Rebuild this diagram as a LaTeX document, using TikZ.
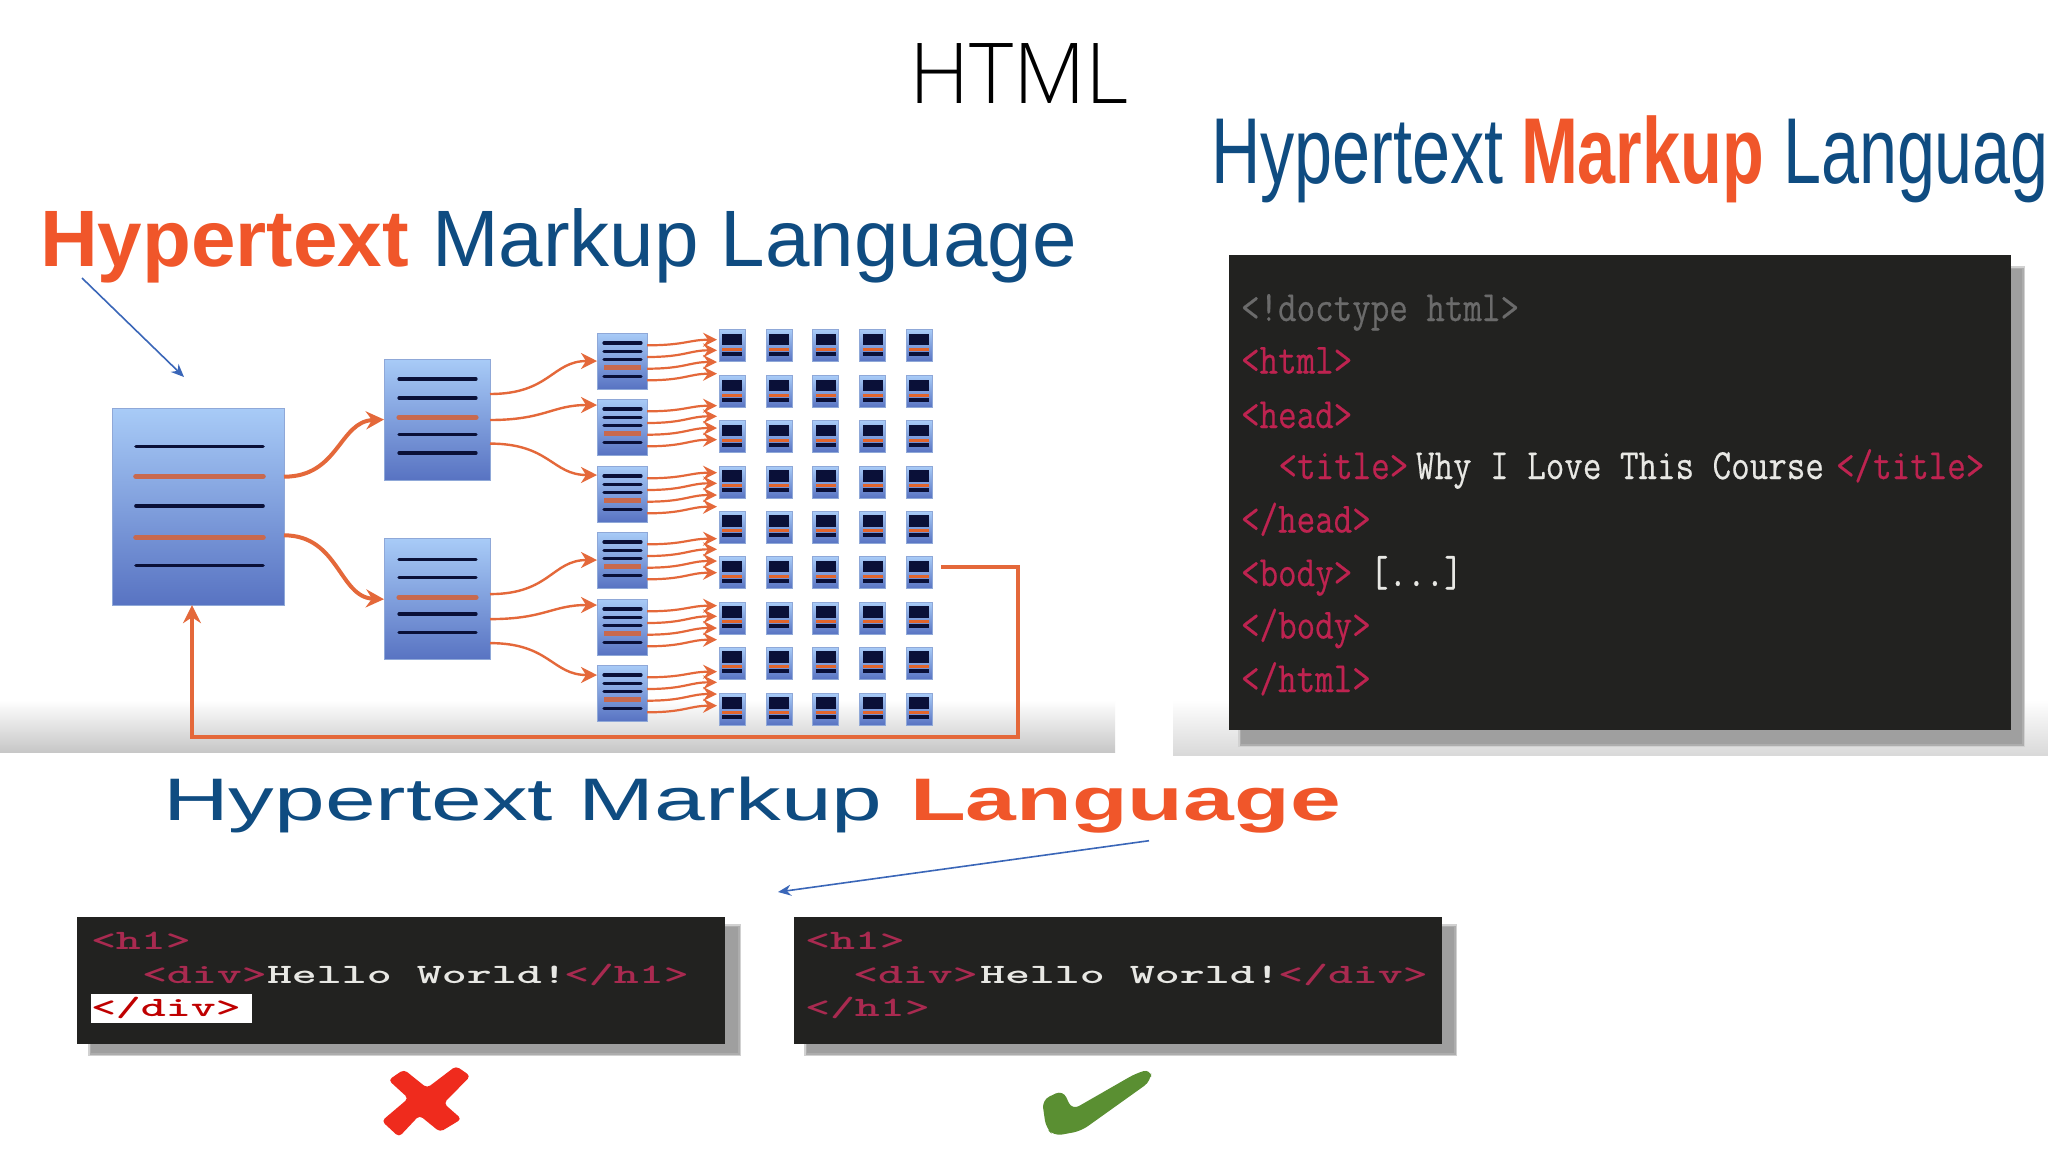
\documentclass[tikz,border=0pt]{standalone}
\usepackage{fontspec}
\usetikzlibrary{arrows.meta,shadings,calc}
\setmainfont{Liberation Sans}
\newfontfamily\titlefont{Open Sans Light}
\newfontfamily\heavymono[FakeBold=0.5]{Latin Modern Mono}
\definecolor{orangeT}{HTML}{F0562A}
\definecolor{blueT}{HTML}{0F4C81}
\definecolor{orangeL}{HTML}{E4683A}
\definecolor{ptr}{HTML}{3A66B8}
\definecolor{panel}{HTML}{222220}
\definecolor{shad}{HTML}{8E8E8E}
\definecolor{tagc}{HTML}{BE2350}
\definecolor{tagb}{HTML}{A92A50}
\definecolor{txtw}{HTML}{E8E8E4}
\definecolor{docl}{HTML}{0A1038}
\definecolor{doco}{HTML}{C8694E}
\definecolor{celo}{HTML}{E2652C}
\definecolor{tickg}{HTML}{5A8F32}
\definecolor{crossr}{HTML}{EF2B1D}
\newcommand{\bigcode}[1]{\scalebox{1}[1.2]{#1}}
\newcommand{\lowcode}[1]{\scalebox{1.7}[1]{#1}}
\newcommand{\condT}[1]{\scalebox{.73}[1]{#1}}
\newcommand{\wideT}[1]{\scalebox{1.52}[1]{#1}}
\newcommand{\softshadow}[4]{%
  \fill[black!18] (#1-2,#2-2) rectangle (#3+3,#4+3);
  \fill[black!32] (#1,#2) rectangle (#3+1.5,#4+1.5);
  \fill[shad!85] (#1+1,#2+1) rectangle (#3,#4);
}
\tikzset{
  txt/.style={anchor=base west,inner sep=0pt,outer sep=0pt},
  titleA/.style={txt,font=\fontsize{40}{44}\selectfont},
  titleB/.style={txt,font=\fontsize{46.8}{50}\selectfont},
  titleC/.style={txt,font=\fontsize{30}{34}\selectfont},
  codeA/.style={txt,font=\heavymono\fontsize{18}{20}\selectfont},
  codeB/.style={txt,font=\ttfamily\bfseries\fontsize{14}{16}\selectfont},
  docbox/.style={draw=docE,line width=.5pt,inner sep=0pt,outer sep=0pt,top color=docT,bottom color=docB},
  big/.style={docbox,minimum width=86pt,minimum height=98.5pt},
  mid/.style={docbox,minimum width=53pt,minimum height=60.5pt},
  small/.style={docbox,minimum width=25pt,minimum height=28pt},
  cell/.style={docbox,minimum width=13pt,minimum height=16pt},
  flowA/.style={draw=orangeL,line width=2pt,-{Stealth[length=9pt,width=9pt,inset=3pt]}},
  flowB/.style={draw=orangeL,line width=1.2pt,-{Stealth[length=8pt,width=8pt,inset=2.5pt]}},
  flowC/.style={draw=orangeL,line width=1.1pt,-{Stealth[length=7pt,width=7pt,inset=2.5pt]}},
  pointer/.style={draw=ptr,line width=.8pt,-{Stealth[length=6.5pt,width=5.5pt]}},
  dk/.style={draw=docl,line cap=round},
  og/.style={draw=doco,line cap=round},
}
\definecolor{docT}{HTML}{A8CBF7}
\definecolor{docB}{HTML}{5873C2}
\definecolor{docE}{HTML}{8FA8D8}
\begin{document}
\begin{tikzpicture}[x=0.5pt,y=-0.5pt]
\useasboundingbox (0,0) rectangle (2048,1152);
\fill[white] (0,0) rectangle (2048,1152);
% panel floors
\shade[top color=white,bottom color=black!22] (0,700) rectangle (1115,752);
\shade[top color=white,bottom color=black!15] (1173,700) rectangle (2048,755);
% title
\node[anchor=base,inner sep=0pt,font=\titlefont\fontsize{42}{46}\selectfont] (title) at (1019,103) {HTML};
% left heading
\node[titleA,text=orangeT,font=\bfseries\fontsize{40}{44}\selectfont] (lh1) at (40,266) {Hypertext};
\node[titleA,text=blueT] (lh2) at (432,266) {Markup Language};
% main documents
\node[big] (main) at (198,506.7) {};
\node[mid] (m1) at (437,419.5) {};
\node[mid] (m2) at (437,599.2) {};
\foreach \y/\s in {446.3/dk,506/dk,565.6/dk} \draw[\s,line width=1.8pt] (136,\y) -- (263,\y);
\foreach \y in {476.3,537.4} \draw[og,line width=2.8pt] (136,\y) -- (263,\y);
\foreach \y in {379,398,434.4,453,559.6,577.8,614,632.6} \draw[dk,line width=1.6pt] (399,\y) -- (476,\y);
\foreach \y in {417.4,597.4} \draw[og,line width=2.6pt] (399,\y) -- (476,\y);
% small documents
\foreach \i/\t in {1/333,2/399,3/466,4/532,5/599,6/665}{
  \node[small] (s\i) at (622,\t+28) {};
  \foreach \d in {10,18.3,26.7,43.3} \draw[dk,line width=1.6pt] (604,\t+\d) -- (641,\t+\d);
  \draw[draw=doco,line width=2.6pt] (604,\t+34.7) -- (641,\t+34.7);
}
% grid
\foreach \r/\cy in {1/345.7,2/391.7,3/436.7,4/482.3,5/527.3,6/572.7,7/618.3,8/663.3,9/709}{
  \foreach \c/\cx in {1/732.3,2/779,3/825.7,4/872.7,5/919.3}{
    \node[cell] (g\r\c) at (\cx,\cy) {};
    \fill[docl] (\cx-10,\cy-12) rectangle (\cx+10,\cy-0.5);
    \draw[draw=docl,line width=2pt] (\cx-10,\cy+8) -- (\cx+10,\cy+8);
    \draw[draw=celo,line width=1.6pt] (\cx-10,\cy+3.5) -- (\cx+10,\cy+3.5);
  }
}
% main -> mid
\draw[flowA] ([yshift=-34.25pt]main.north east) .. controls +(55,0) and +(-45,2) .. (m1.west);
\draw[flowA] ([yshift=-63.55pt]main.north east) .. controls +(55,0) and +(-45,-2) .. (m2.west);
% mid -> small
\draw[flowB] ([yshift=-17.5pt]m1.north east) .. controls +(60,0) and +(-45,0) .. ([yshift=-14pt]s1.north west);
\draw[flowB] ([yshift=-30.5pt]m1.north east) .. controls +(55,0) and +(-45,0) .. ([yshift=-3pt]s2.north west);
\draw[flowB] ([yshift=-42.3pt]m1.north east) .. controls +(60,0) and +(-45,0) .. ([yshift=-4.5pt]s3.north west);
\draw[flowB] ([yshift=-27.7pt]m2.north east) .. controls +(60,0) and +(-45,0) .. ([yshift=-14pt]s4.north west);
\draw[flowB] ([yshift=-40.2pt]m2.north east) .. controls +(55,0) and +(-45,0) .. ([yshift=-3pt]s5.north west);
\draw[flowB] ([yshift=-52.2pt]m2.north east) .. controls +(60,0) and +(-45,0) .. ([yshift=-5pt]s6.north west);
% small -> grid
\foreach \i/\t in {1/333,2/399,3/466,4/532,5/599,6/665}{
  \foreach \k/\a/\b in {1/12.3/6.7,2/24/17.3,3/35.7/29,4/47.3/40.7}{
    \coordinate (e\i\k) at (717,\t+\b);
    \coordinate (b\i\k) at (647,\t+\a);
    \draw[flowC] (b\i\k) .. controls +(38,0) and +(-28,0) .. (e\i\k);
  }
}
% feedback
\coordinate (fb) at (941,566.7);
\coordinate (fbr) at (1017.7,566.7);
\coordinate (fbb) at (1017.7,737);
\coordinate (fbt) at ([xshift=-3pt]main.south);
\draw[flowA] (fb) -- (fbr) -- (fbb) -- (fbb -| fbt) -- (fbt);
% pointers
\coordinate (p1) at (82,278);
\coordinate (p1e) at (184,377);
\draw[pointer] (p1) -- (p1e);
\coordinate (p2) at (1149,840.7);
\coordinate (p2e) at (778,892);
\draw[pointer] (p2) -- (p2e);
% right heading
\node[titleB,text=blueT] (rh1) at (1211,183) {\condT{Hypertext}};
\node[titleB,text=orangeT,font=\bfseries\fontsize{46.8}{50}\selectfont] (rh2) at (1521,183) {\condT{Markup}};
\node[titleB,text=blueT] (rh3) at (1783,183) {\condT{Languag}};
% right code panel
\softshadow{1240}{268}{2022}{744}
\fill[panel] (1228.7,254.7) rectangle (2010.6,730);
\node[codeA,text=black!58] (c1) at (1241,321) {\bigcode{<!doctype html>}};
\node[codeA,text=tagc] (c2) at (1241,373.5) {\bigcode{<html>}};
\node[codeA,text=tagc] (c3) at (1241,428) {\bigcode{<head>}};
\node[codeA,text=tagc] (c4a) at (1278.5,479) {\bigcode{<title>}};
\node[codeA,text=txtw] (c4b) at (1416,479) {\bigcode{Why I Love This Course}};
\node[codeA,text=tagc] (c4c) at (1836,479) {\bigcode{</title>}};
\node[codeA,text=tagc] (c5) at (1241,532.5) {\bigcode{</head>}};
\node[codeA,text=tagc] (c6a) at (1241,586) {\bigcode{<body>}};
\node[codeA,text=txtw] (c6b) at (1370,586) {\bigcode{[...]}};
\node[codeA,text=tagc] (c7) at (1241,638.5) {\bigcode{</body>}};
\node[codeA,text=tagc] (c8) at (1241,692) {\bigcode{</html>}};
% bottom heading
\node[titleC,text=blueT] (bh1) at (163,820) {\wideT{Hypertext Markup}};
\node[titleC,text=orangeT,font=\bfseries\fontsize{30}{34}\selectfont] (bh2) at (910,820) {\wideT{Language}};
% bottom code panels
\softshadow{90}{926}{738}{1053}
\fill[panel] (77,916.7) rectangle (725,1044);
\softshadow{806}{926}{1454}{1053}
\fill[panel] (794.4,916.7) rectangle (1442,1044);
\fill[white] (91,994) rectangle (252,1023);
\node[codeB,text=tagb] (l1) at (91,949) {\lowcode{<h1>}};
\node[codeB,text=tagb] (l2a) at (142,983) {\lowcode{<div>}};
\node[codeB,text=txtw] (l2b) at (267,983) {\lowcode{Hello World!}};
\node[codeB,text=tagb] (l2c) at (564,983) {\lowcode{</h1>}};
\node[codeB,text=red!75!black] (l3) at (91,1016.7) {\lowcode{</div>}};
\node[codeB,text=tagb] (r1) at (805,949) {\lowcode{<h1>}};
\node[codeB,text=tagb] (r2a) at (853,983) {\lowcode{<div>}};
\node[codeB,text=txtw] (r2b) at (980,983) {\lowcode{Hello World!}};
\node[codeB,text=tagb] (r2c) at (1278,983) {\lowcode{</div>}};
\node[codeB,text=tagb] (r3) at (805,1016.7) {\lowcode{</h1>}};
% cross and tick
\fill[crossr,rounded corners=2pt] (404,1069.5) -- (427,1088) -- (456,1066) -- (470.5,1076) -- (443.7,1103.3) -- (461.6,1119) -- (440,1132) -- (419.4,1115.3) -- (399,1137) -- (381.7,1121) -- (408.4,1098.3) -- (388.4,1080) -- cycle;
\fill[tickg,rounded corners=4pt] (1042,1100) -- (1063,1090) -- (1072,1110) -- (1136.5,1073) -- (1151,1069) -- (1151,1081) -- (1081,1131) -- (1054,1136) -- (1046,1128) -- cycle;
\end{tikzpicture}
\end{document}
